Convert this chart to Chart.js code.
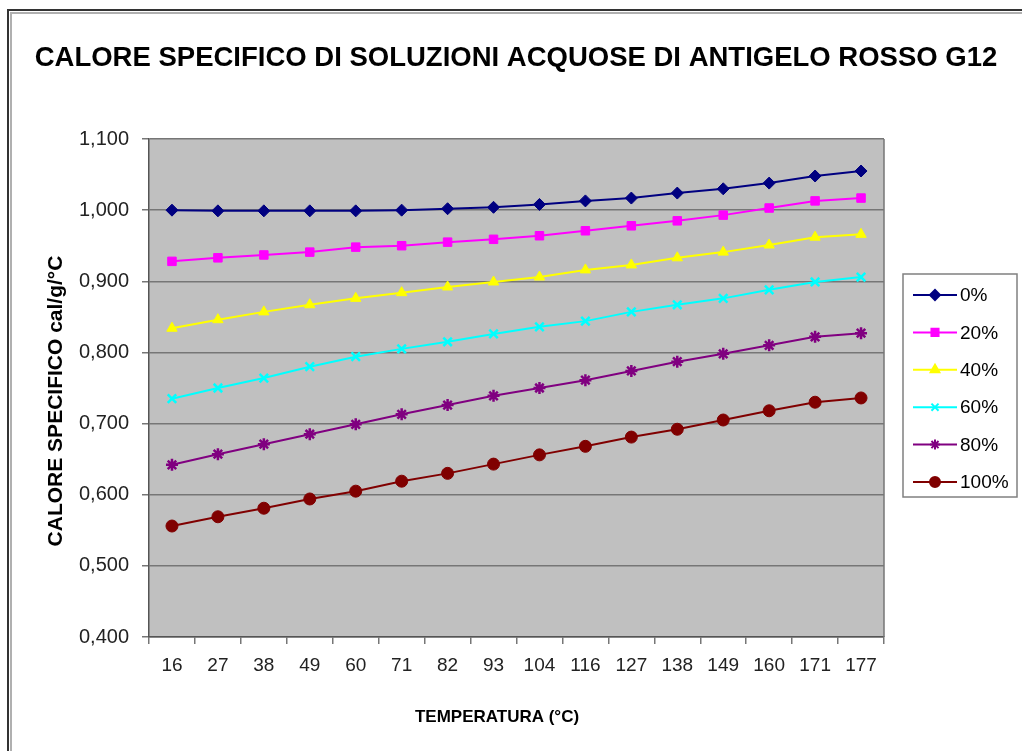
<!DOCTYPE html>
<html>
<head>
<meta charset="utf-8">
<script src="https://cdn.jsdelivr.net/npm/chart.js@4.4.1/dist/chart.umd.min.js"></script>
<style>
  html, body { margin: 0; padding: 0; background: #fff; }
  #wrap { position: relative; width: 1022px; height: 751px; }
</style>
</head>
<body>
<div id="wrap"><canvas id="chart" width="1022" height="751"></canvas></div>
<script>
const temps = ['16','27','38','49','60','71','82','93','104','116','127','138','149','160','171','177'];
const seriesNames = ['0%','20%','40%','60%','80%','100%'];
const s0 = [1.000,0.999,0.999,0.999,0.999,1.000,1.002,1.004,1.008,1.013,1.017,1.024,1.030,1.038,1.048,1.055];
const s20 = [0.928,0.933,0.937,0.941,0.948,0.950,0.955,0.959,0.964,0.971,0.978,0.985,0.993,1.003,1.013,1.017];
const s40 = [0.834,0.846,0.857,0.867,0.876,0.884,0.892,0.899,0.906,0.916,0.923,0.933,0.941,0.951,0.962,0.966];
const s60 = [0.735,0.750,0.764,0.780,0.794,0.805,0.815,0.826,0.836,0.844,0.857,0.867,0.876,0.888,0.899,0.906];
const s80 = [0.642,0.657,0.671,0.685,0.699,0.713,0.726,0.739,0.750,0.761,0.774,0.787,0.798,0.810,0.822,0.827];
const s100 = [0.556,0.569,0.581,0.594,0.605,0.619,0.630,0.643,0.656,0.668,0.681,0.692,0.705,0.718,0.730,0.736];
const yTicks = [0.4,0.5,0.6,0.7,0.8,0.9,1.0,1.1];

const chartTitle = 'CALORE SPECIFICO DI SOLUZIONI ACQUOSE DI ANTIGELO ROSSO G12';
const xTitle = 'TEMPERATURA (°C)';
const yTitle = 'CALORE SPECIFICO cal/g/°C';

const colors = ['#000080','#ff00ff','#ffff00','#00ffff','#800080','#800000'];
const styles = ['rectRot','rect','triangle','crossRot','star','circle'];

const FONT = "'Liberation Sans', Arial, sans-serif";
const GRID = '#767676';

// plot background + frame around the whole picture
const backdrop = {
  id: 'backdrop',
  beforeDraw(chart){
    const {ctx, chartArea: a} = chart;
    ctx.save();
    ctx.fillStyle = '#fff';
    ctx.fillRect(0, 0, chart.width, chart.height);
    ctx.fillStyle = '#c0c0c0';
    ctx.fillRect(a.left, a.top, a.right - a.left, a.bottom - a.top);
    ctx.strokeStyle = '#b0b0b0';
    ctx.lineWidth = 2;
    ctx.strokeRect(11, 13, chart.width + 20, chart.height + 20);
    ctx.strokeStyle = '#333';
    ctx.strokeRect(8, 10, chart.width + 20, chart.height + 20);
    ctx.restore();
  },
  afterDatasetsDraw(chart){
    const {ctx, chartArea: a} = chart;
    ctx.save();
    ctx.strokeStyle = GRID;
    ctx.lineWidth = 1.5;
    ctx.beginPath();
    ctx.moveTo(a.right, a.top);
    ctx.lineTo(a.right, a.bottom);
    ctx.stroke();
    ctx.restore();
  }
};

// titles are placed like the Excel original, not centred on the plot
const titles = {
  id: 'titles',
  afterDraw(chart){
    const ctx = chart.ctx;
    ctx.save();
    ctx.fillStyle = '#000';
    ctx.textAlign = 'center';
    ctx.textBaseline = 'middle';
    ctx.font = 'bold 27.5px ' + FONT;
    ctx.fillText(chartTitle, 516, 58);
    ctx.font = 'bold 17px ' + FONT;
    ctx.fillText(xTitle, 497, 717);
    ctx.translate(56, 401);
    ctx.rotate(-Math.PI / 2);
    ctx.font = 'bold 21px ' + FONT;
    ctx.fillText(yTitle, 0, 0);
    ctx.restore();
  }
};

// Excel-like legend: short line with the marker in the middle
const sideLegend = {
  id: 'sideLegend',
  afterDraw(chart){
    const ctx = chart.ctx;
    ctx.save();
    ctx.strokeStyle = '#808080';
    ctx.lineWidth = 1.5;
    ctx.strokeRect(903, 274, 114, 223);
    ctx.font = '19px ' + FONT;
    ctx.textBaseline = 'middle';
    chart.data.datasets.forEach((ds, i) => {
      const y = 295 + i * 37.4;
      ctx.strokeStyle = ds.borderColor;
      ctx.lineWidth = 2;
      ctx.beginPath();
      ctx.moveTo(913, y);
      ctx.lineTo(957, y);
      ctx.stroke();
      ctx.fillStyle = ds.pointBackgroundColor;
      ctx.strokeStyle = ds.pointBorderColor;
      Chart.helpers.drawPoint(ctx, {pointStyle: ds.pointStyle, radius: 5, rotation: 0, borderWidth: 1.5}, 935, y);
      ctx.fillStyle = '#000';
      ctx.fillText(ds.label, 960, y + 1);
    });
    ctx.restore();
  }
};

const allSeries = [s0, s20, s40, s60, s80, s100];
const datasets = allSeries.map((vals, i) => ({
  label: seriesNames[i],
  data: vals,
  borderColor: colors[i],
  backgroundColor: colors[i],
  pointBackgroundColor: colors[i],
  pointBorderColor: colors[i],
  pointStyle: styles[i],
  pointRadius: 6,
  pointBorderWidth: (styles[i] === 'crossRot' || styles[i] === 'star') ? 2.5 : 1,
  borderWidth: 2,
  tension: 0,
  fill: false
}));

new Chart(document.getElementById('chart'), {
  type: 'line',
  data: { labels: temps, datasets },
  plugins: [backdrop, titles, sideLegend],
  options: {
    responsive: false,
    animation: false,
    devicePixelRatio: 1,
    layout: { padding: { left: 0, right: 138, top: 139, bottom: 0 } },
    plugins: {
      legend: { display: false },
      tooltip: { enabled: false },
      title: { display: false }
    },
    scales: {
      x: {
        offset: true,
        afterFit(s){ s.height = 114; },
        grid: { offset: true, drawOnChartArea: false, drawTicks: true, tickLength: 7, color: GRID, lineWidth: 1.5 },
        border: { display: true, color: '#555', width: 1.5 },
        ticks: { color: '#222', font: { family: FONT, size: 19 }, padding: 10, maxRotation: 0, autoSkip: false }
      },
      y: {
        min: 0.4,
        max: 1.1,
        afterFit(s){ s.width = 149; },
        afterBuildTicks(s){ s.ticks = yTicks.map(v => ({ value: v })); },
        grid: { color: GRID, lineWidth: 1.5, tickLength: 7 },
        border: { display: true, color: '#555', width: 1.5 },
        ticks: {
          color: '#222',
          font: { family: FONT, size: 20 },
          padding: 13,
          callback: v => v.toFixed(3).replace('.', ',')
        }
      }
    }
  }
});
</script>
</body>
</html>
